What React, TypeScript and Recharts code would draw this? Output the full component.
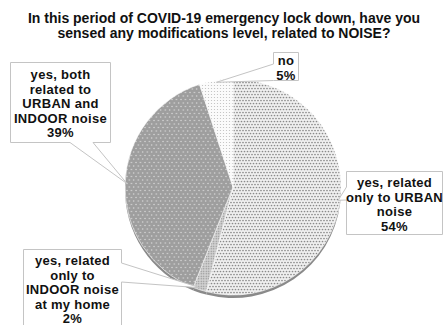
import { PieChart, Pie, Cell } from 'recharts';

const categories = [
  'yes, related only to URBAN noise',
  'yes, related only to INDOOR noise at my home',
  'yes, both related to URBAN and INDOOR noise',
  'no',
];
const shares = [54, 2, 39, 5];
const labelLines = [
  ['yes, related', 'only to URBAN', 'noise'],
  ['yes, related', 'only to', 'INDOOR noise', 'at my home'],
  ['yes, both', 'related to', 'URBAN and', 'INDOOR noise'],
  ['no'],
];

const pieData = categories.map((name, i) => ({ name, value: shares[i] }));

const fills = ['url(#dotsUrban)', 'url(#dotsIndoor)', 'url(#dotsBoth)', 'url(#dotsNo)'];

type Box = { x: number; y: number; w: number; h: number; side: 'left' | 'right' | 'bottom'; b1: number; b2: number };

// callout boxes, same order as categories
const boxes: Box[] = [
  { x: 346.5, y: 171.5, w: 96, h: 63, side: 'left', b1: 187, b2: 200 },
  { x: 23.5, y: 249.5, w: 98, h: 78, side: 'right', b1: 263, b2: 282 },
  { x: 10.5, y: 62.5, w: 100, h: 80, side: 'bottom', b1: 70, b2: 93 },
  { x: 273.5, y: 52.5, w: 25, h: 28, side: 'left', b1: 64, b2: 80.5 },
];

const FONT = '"Liberation Sans", Arial, sans-serif';
const RADIAN = Math.PI / 180;
const LINE_H = 14.5;

function calloutPath(b: Box, tx: number, ty: number) {
  const { x, y, w, h, b1, b2 } = b;
  const r = x + w;
  const btm = y + h;
  if (b.side === 'left') return `M${x},${y} H${r} V${btm} H${x} V${b2} L${tx},${ty} L${x},${b1} Z`;
  if (b.side === 'right') return `M${x},${y} H${r} V${b1} L${tx},${ty} L${r},${b2} V${btm} H${x} Z`;
  return `M${x},${y} H${r} V${btm} H${b2} L${tx},${ty} L${b1},${btm} H${x} Z`;
}

function renderCallout(props: any) {
  const { cx, cy, midAngle, outerRadius } = props;
  const i = typeof props.index === 'number' ? props.index : categories.indexOf(props.name);
  const b = boxes[i];
  const tx = cx + (outerRadius - 2) * Math.cos(-midAngle * RADIAN);
  const ty = cy + (outerRadius - 2) * Math.sin(-midAngle * RADIAN);
  const lines = [...labelLines[i], `${shares[i]}%`];
  const midY = b.y + b.h / 2 + 1.5;
  const textX = b.x + b.w / 2;
  return (
    <g key={`callout-${i}`}>
      <path d={calloutPath(b, tx, ty)} fill="#ffffff" stroke="#c4c4c4" strokeWidth={1} />
      <text
        x={textX}
        textAnchor="middle"
        fontFamily={FONT}
        fontWeight="bold"
        fontSize={13}
        letterSpacing={0.3}
        fill="#111"
      >
        {lines.map((line, k) => (
          <tspan key={k} x={textX} y={midY - ((lines.length - 1) / 2) * LINE_H + k * LINE_H + 4.3}>
            {line}
          </tspan>
        ))}
      </text>
    </g>
  );
}

function Patterns() {
  return (
    <svg width={0} height={0} style={{ position: 'absolute' }}>
      <defs>
        <pattern id="dotsUrban" width={3} height={6} patternUnits="userSpaceOnUse">
          <rect width={3} height={6} fill="#f0f0f0" />
          <circle cx={1.5} cy={1.5} r={0.85} fill="#8a8a8a" />
          <circle cx={0} cy={4.5} r={0.85} fill="#8a8a8a" />
          <circle cx={3} cy={4.5} r={0.85} fill="#8a8a8a" />
        </pattern>
        <pattern id="dotsIndoor" width={2.5} height={2.5} patternUnits="userSpaceOnUse">
          <rect width={2.5} height={2.5} fill="#d2d2d2" />
          <circle cx={1.25} cy={1.25} r={0.7} fill="#8a8a8a" />
        </pattern>
        <pattern id="dotsBoth" width={4.5} height={7} patternUnits="userSpaceOnUse">
          <rect width={4.5} height={7} fill="#9e9e9e" />
          <circle cx={1} cy={1.5} r={0.7} fill="#dcdcdc" />
          <circle cx={3.25} cy={5} r={0.7} fill="#dcdcdc" />
        </pattern>
        <pattern id="dotsNo" width={3} height={3} patternUnits="userSpaceOnUse">
          <rect width={3} height={3} fill="#fbfbfb" />
          <circle cx={1.5} cy={1.5} r={0.6} fill="#bdbdbd" />
        </pattern>
      </defs>
    </svg>
  );
}

export default function App() {
  return (
    <div style={{ position: 'absolute', left: 0, top: 0, width: 444, height: 325, background: '#fff', overflow: 'hidden' }}>
      <Patterns />
      <div
        style={{
          position: 'absolute',
          left: 2,
          top: 11,
          width: 444,
          textAlign: 'center',
          fontFamily: FONT,
          fontWeight: 'bold',
          fontSize: 14,
          lineHeight: '15px',
          color: '#111',
        }}
      >
        In this period of COVID-19 emergency lock down, have you
        <br />
        sensed any modifications level, related to NOISE?
      </div>
      <div style={{ position: 'absolute', left: 0, top: 0 }}>
        <PieChart width={444} height={325} margin={{ top: 0, right: 0, bottom: 0, left: 0 }}>
          {/* darker copy underneath gives the bottom rim */}
          <Pie
            data={pieData}
            dataKey="value"
            cx={233}
            cy={190}
            outerRadius={108}
            startAngle={90}
            endAngle={-270}
            fill="#8a8a8a"
            stroke="none"
            label={false}
            labelLine={false}
            isAnimationActive={false}
          />
          <Pie
            data={pieData}
            dataKey="value"
            cx={233}
            cy={187}
            outerRadius={108}
            startAngle={90}
            endAngle={-270}
            stroke="#ffffff"
            strokeWidth={0.6}
            label={renderCallout}
            labelLine={false}
            isAnimationActive={false}
          >
            {pieData.map((d, i) => (
              <Cell key={d.name} fill={fills[i]} />
            ))}
          </Pie>
        </PieChart>
      </div>
    </div>
  );
}
